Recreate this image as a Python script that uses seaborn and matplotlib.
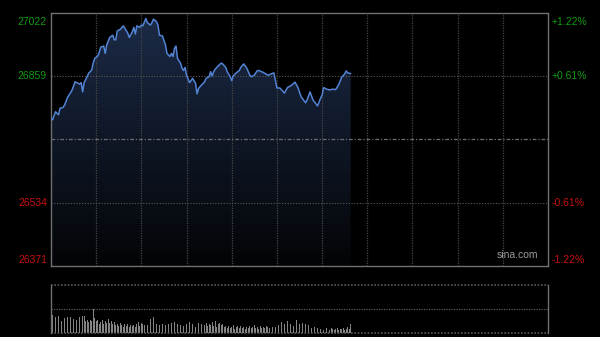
import numpy as np
import pandas as pd
import matplotlib
matplotlib.use("Agg")
import matplotlib.pyplot as plt
from matplotlib.patches import Polygon
from matplotlib.colors import LinearSegmentedColormap
import seaborn as sns

# ---- data (minutes since open, index level) ----
minutes = [0, 1, 3, 5, 6, 8, 9, 11, 13, 14, 16, 17, 19, 20, 21, 22, 23, 25, 27, 28,
           29, 31, 32, 33, 35, 36, 37, 39, 41, 42, 43, 44, 46, 48, 49, 51, 52, 54, 55, 56,
           57, 59, 60, 61, 63, 64, 66, 67, 68, 70, 71, 72, 74, 76, 77, 79, 80, 81, 82, 83,
           84, 86, 87, 88, 89, 90, 92, 93, 94, 96, 97, 98, 100, 102, 103, 105, 106, 107, 108, 109,
           111, 113, 114, 116, 117, 119, 120, 121, 123, 125, 126, 128, 130, 132, 133, 135, 137, 138, 141, 144,
           146, 148, 150, 152, 155, 157, 160, 162, 164, 166, 169, 170, 172, 174, 177, 179, 180, 181, 183, 185,
           187, 189, 191, 193, 195, 196, 197, 199]
prices = [26751, 26747, 26768, 26760, 26777, 26779, 26785, 26805, 26817, 26824, 26845, 26843, 26839, 26843, 26819, 26843, 26850, 26867, 26875, 26893,
          26905, 26911, 26920, 26934, 26937, 26918, 26940, 26959, 26965, 26953, 26953, 26976, 26980, 26989, 26983, 26970, 26959, 26974, 26985, 26968,
          26989, 26985, 26991, 26989, 27008, 26997, 26991, 26997, 27006, 27000, 26991, 26965, 26963, 26940, 26918, 26910, 26918, 26910, 26931, 26937,
          26905, 26893, 26880, 26874, 26882, 26862, 26843, 26848, 26854, 26841, 26814, 26828, 26837, 26845, 26854, 26858, 26871, 26860, 26871, 26877,
          26886, 26893, 26891, 26882, 26871, 26858, 26848, 26860, 26868, 26874, 26882, 26891, 26880, 26862, 26858, 26862, 26874, 26874, 26869, 26862,
          26865, 26868, 26829, 26829, 26816, 26830, 26837, 26844, 26830, 26807, 26791, 26798, 26819, 26798, 26783, 26803, 26811, 26830, 26826, 26824,
          26826, 26825, 26837, 26857, 26865, 26873, 26868, 26866]

volumes = [480,
           185, 150, 165, 140, 170, 160, 125, 170, 150, 115, 160,
           150, 165, 120, 140, 175, 130, 110, 160, 145,
           175, 175, 120, 130, 110, 135, 125,
           243,
           155, 120, 130, 95, 115, 135, 90, 120, 105, 140, 100, 120, 90, 110,
           80, 95, 70, 100, 85, 60, 90, 75, 95, 65, 80, 70, 85, 60,
           95, 110, 75, 100, 90, 80, 150, 85, 70, 140, 95, 160, 75, 90, 100,
           80, 70, 95, 65, 85, 60, 90, 75, 100, 70, 110, 85, 95, 65, 80, 100, 75, 60, 90, 85, 115, 70, 95, 80, 60, 85, 100, 70, 90,
           95, 80, 105, 70, 90, 85, 110, 75, 120, 65, 90, 100, 80, 95,
           60, 75, 50, 70, 55, 65, 80, 45, 60, 70, 50, 75, 55, 65, 45, 60, 50, 70, 55, 65, 80, 50, 60, 45, 70, 55, 65, 50, 75, 60, 55, 80, 65, 70, 60,
           215,
           85, 70, 110, 80, 95, 65, 120, 75, 90, 100, 70, 85, 130, 80, 95, 70, 100, 75, 90, 65, 85, 70,
           50, 40, 60, 35, 55, 45, 40, 50, 30, 45, 55, 40, 35, 50, 45, 30, 40, 55, 35, 45, 40, 50, 35, 45, 60, 40, 90]
vol_minutes = list(range(len(volumes)))

y_ticks = [26371, 26534, 26859, 27022]
y_labels = ["26371", "26534", "26859", "27022"]
pct_labels = ["-1.22%", "-0.61%", "+0.61%", "+1.22%"]
prev_close = 26696.5
session_len = 330

df = pd.DataFrame({"minute": minutes, "price": prices})
vdf = pd.DataFrame({"minute": vol_minutes, "volume": volumes})

sns.set_theme(style="dark")
plt.rcParams['font.family'] = ['Liberation Sans', 'DejaVu Sans']

fig = plt.figure(figsize=(6.0, 3.37), dpi=100, facecolor="black")
ax = fig.add_axes([51/600, 1-266/337, 497/600, 253/337])
axv = fig.add_axes([51/600, 1-333/337, 497/600, 48/337])

edge = "#707070"
grid_c = "#464646"
for a in (ax, axv):
    a.set_facecolor("black")
    a.set_xlim(0, session_len)
    a.set_xticks([])
    a.set_yticks([])
    a.grid(False)

ax.set_ylim(26371, 27022)

# gradient fill under the line
xs = df["minute"].to_numpy()
ys = df["price"].to_numpy()
poly_xy = np.column_stack([np.r_[xs[0], xs, xs[-1]], np.r_[26371, ys, 26371]])
poly = Polygon(poly_xy, closed=True, facecolor="none", edgecolor="none")
ax.add_patch(poly)
cmap = LinearSegmentedColormap.from_list("g", ["#030406", "#0f1726", "#1c2b48"])
grad = np.linspace(0, 1, 256).reshape(-1, 1)
im = ax.imshow(grad, cmap=cmap, aspect="auto", origin="lower",
               extent=[0, session_len, 26371, 27022], zorder=1)
im.set_clip_path(poly)

# grid lines
for m in range(30, session_len, 30):
    ax.axvline(m, color=grid_c, lw=0.9, ls=(0, (1, 1)), zorder=2)
for yv in (26534, 26859):
    ax.axhline(yv, color="#5a5a5a", lw=0.8, ls=(0, (1, 1.5)), zorder=2)
ax.axhline(prev_close, color="#6e6e6e", lw=0.9, ls=(0, (3, 1.5, 1, 1.5)), zorder=2)

sns.lineplot(data=df, x="minute", y="price", ax=ax, color="#5283d4", lw=1.1, zorder=3)
ax.set_xlabel("")
ax.set_ylabel("")
ax.set_xticks([])
ax.set_yticks([])
ax.set_xlim(0, session_len)
ax.set_ylim(26371, 27022)

for sp in ax.spines.values():
    sp.set_visible(True)
    sp.set_color(edge)
    sp.set_linewidth(1.0)

# tick labels as text
green = "#129a12"
red = "#c81010"
trans_l = ax.get_yaxis_transform()
fs = 7.5
offsets = [15, 0, 0, -22]
colors = [red, red, green, green]
for yv, lab, pl, off, c in zip(y_ticks, y_labels, pct_labels, offsets, colors):
    ax.text(-0.008, yv + off, lab, transform=trans_l, ha="right", va="center", color=c, fontsize=fs)
    ax.text(1.008, yv + off, pl, transform=trans_l, ha="left", va="center", color=c, fontsize=fs)
ax.text(0.98, 0.022, "sina.com", transform=ax.transAxes, ha="right", va="bottom",
        color="#9a9a9a", fontsize=7.5)

# volume panel
vmax = 480
sns.barplot(data=vdf, x="minute", y="volume", ax=axv, native_scale=True,
            color="#858585", width=0.5, linewidth=0, errorbar=None, saturation=1)
axv.set_xlim(0, session_len)
axv.set_ylim(0, vmax)
axv.set_xticks([])
axv.set_yticks([])
axv.set_xlabel("")
axv.set_ylabel("")
axv.axhline(vmax / 2, color="#5a5a5a", lw=0.9, ls=(0, (1, 1)))
axv.axhline(vmax, color="#5a5a5a", lw=1.2, ls=(0, (1, 1)), clip_on=False)
axv.axhline(0, color="#5a5a5a", lw=1.2, ls=(0, (1, 1)), clip_on=False)
axv.spines["top"].set_visible(False)
axv.spines["bottom"].set_visible(False)
for s in ("left", "right"):
    axv.spines[s].set_visible(True)
    axv.spines[s].set_color(edge)
    axv.spines[s].set_linewidth(1.0)

fig.savefig("out.png", dpi=100, facecolor="black")
